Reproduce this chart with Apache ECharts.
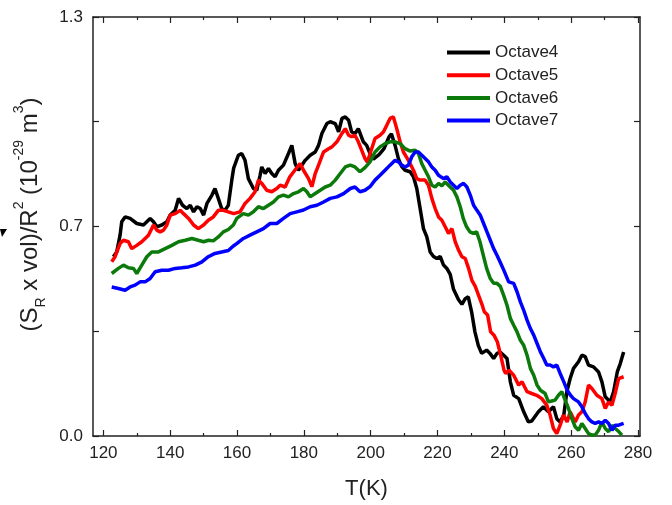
<!DOCTYPE html>
<html>
<head>
<meta charset="utf-8">
<script src="https://cdn.jsdelivr.net/npm/echarts@6/dist/echarts.min.js"></script>
<style>
  html, body { margin: 0; padding: 0; background: #fff; }
  #chart { width: 672px; height: 505px; }
</style>
</head>
<body>
<div id="chart"></div>
<script>
// tick labels
var xTicks = [120, 140, 160, 180, 200, 220, 240, 260, 280];
var xMinorTicks = [130, 150, 170, 190, 210, 230, 250, 270];
var yLabels = { 0: "0.0", 0.7: "0.7", 1.4: "1.3" };
var seriesNames = ["Octave4", "Octave5", "Octave6", "Octave7"];

// Octave4
var t4 = [123.0, 124.0, 125.0, 125.5, 126.5, 128.0, 130.0, 132.0, 134.0, 135.0, 136.0, 137.5, 139.0, 140.0, 141.5, 142.5, 143.7, 145.0, 146.0, 147.0, 148.0, 149.0, 150.0, 151.0, 152.5, 153.4, 154.4, 155.4, 156.4, 157.4, 157.9, 158.5, 159.0, 160.4, 161.4, 162.4, 163.4, 164.9, 165.9, 166.9, 167.4, 168.4, 169.4, 170.4, 171.4, 172.4, 173.9, 175.4, 176.4, 177.4, 178.4, 179.4, 180.4, 181.9, 183.4, 184.4, 185.4, 186.9, 187.9, 189.4, 190.4, 191.4, 192.4, 193.4, 194.3, 195.3, 196.3, 197.8, 198.8, 199.8, 200.8, 202.5, 204.0, 205.5, 206.2, 207.3, 208.3, 209.3, 210.3, 211.8, 212.8, 213.8, 214.8, 215.8, 216.8, 217.8, 218.8, 219.8, 220.8, 221.8, 222.8, 223.8, 224.8, 226.3, 227.3, 228.3, 229.2, 230.2, 231.2, 232.2, 233.2, 234.7, 235.7, 236.8, 237.8, 238.8, 239.8, 240.8, 241.8, 242.8, 244.3, 245.8, 247.2, 248.2, 250.2, 251.7, 253.2, 254.7, 255.7, 256.7, 257.8, 258.7, 259.7, 260.7, 262.2, 263.2, 264.2, 265.2, 266.7, 268.2, 269.2, 270.2, 271.7, 272.7, 273.8, 274.7, 275.7];
var v4 = [0.599, 0.615, 0.671, 0.716, 0.732, 0.727, 0.710, 0.705, 0.727, 0.716, 0.699, 0.705, 0.716, 0.738, 0.754, 0.794, 0.771, 0.760, 0.771, 0.749, 0.766, 0.760, 0.738, 0.777, 0.805, 0.827, 0.794, 0.760, 0.754, 0.771, 0.765, 0.860, 0.895, 0.938, 0.944, 0.921, 0.860, 0.827, 0.821, 0.871, 0.899, 0.877, 0.894, 0.877, 0.866, 0.888, 0.905, 0.944, 0.971, 0.910, 0.888, 0.905, 0.921, 0.938, 0.949, 0.971, 1.011, 1.044, 1.050, 1.044, 1.016, 1.061, 1.066, 1.055, 1.016, 1.011, 1.027, 0.983, 0.971, 0.944, 0.925, 0.940, 0.960, 1.000, 1.010, 0.971, 0.927, 0.900, 0.888, 0.883, 0.866, 0.827, 0.760, 0.693, 0.665, 0.615, 0.600, 0.593, 0.600, 0.571, 0.560, 0.540, 0.490, 0.455, 0.440, 0.459, 0.465, 0.415, 0.348, 0.303, 0.276, 0.287, 0.276, 0.259, 0.276, 0.280, 0.270, 0.259, 0.181, 0.136, 0.125, 0.081, 0.047, 0.050, 0.081, 0.098, 0.081, 0.098, 0.058, 0.047, 0.070, 0.148, 0.192, 0.226, 0.248, 0.270, 0.265, 0.237, 0.231, 0.214, 0.181, 0.131, 0.114, 0.148, 0.214, 0.242, 0.281];

// Octave5
var t5 = [122.5, 123.5, 125.0, 126.0, 127.5, 128.5, 130.0, 131.5, 133.5, 135.0, 136.0, 137.0, 138.0, 139.0, 140.0, 141.5, 143.0, 144.0, 145.5, 147.0, 148.4, 150.0, 151.4, 152.9, 154.4, 155.9, 157.4, 159.0, 160.9, 162.4, 163.9, 165.4, 166.4, 167.4, 168.9, 170.4, 171.9, 172.9, 174.4, 175.8, 177.3, 178.9, 179.9, 181.4, 182.4, 183.4, 184.4, 185.9, 187.4, 188.4, 189.9, 191.4, 192.4, 193.4, 194.3, 195.3, 196.3, 197.3, 198.3, 199.0, 200.0, 201.3, 202.8, 203.8, 204.8, 205.8, 206.8, 207.8, 208.8, 209.8, 211.3, 212.8, 213.8, 214.8, 216.3, 217.3, 218.3, 219.3, 220.3, 221.3, 222.3, 223.3, 224.3, 225.3, 226.3, 227.3, 228.3, 229.3, 230.3, 231.3, 232.3, 233.3, 234.0, 235.0, 235.9, 236.9, 237.9, 238.9, 239.9, 240.4, 241.4, 242.8, 244.3, 245.3, 246.8, 248.2, 249.7, 251.2, 252.7, 253.7, 254.7, 255.7, 256.7, 257.7, 258.8, 259.7, 261.2, 262.2, 263.2, 264.2, 265.2, 266.2, 267.7, 269.2, 270.2, 271.2, 272.2, 273.3, 274.2, 275.7];
var v5 = [0.582, 0.599, 0.643, 0.654, 0.649, 0.626, 0.637, 0.649, 0.671, 0.705, 0.688, 0.682, 0.688, 0.705, 0.738, 0.743, 0.754, 0.743, 0.727, 0.705, 0.693, 0.705, 0.721, 0.732, 0.754, 0.754, 0.749, 0.743, 0.749, 0.777, 0.794, 0.816, 0.855, 0.844, 0.821, 0.816, 0.827, 0.838, 0.832, 0.866, 0.888, 0.910, 0.888, 0.860, 0.833, 0.877, 0.905, 0.949, 0.960, 0.966, 0.983, 1.011, 1.027, 1.005, 1.000, 1.005, 0.983, 0.955, 0.927, 0.915, 0.950, 0.994, 1.005, 1.016, 1.038, 1.061, 1.066, 1.027, 0.983, 0.949, 0.921, 0.888, 0.860, 0.855, 0.855, 0.838, 0.794, 0.760, 0.732, 0.721, 0.699, 0.677, 0.693, 0.649, 0.621, 0.599, 0.593, 0.560, 0.520, 0.500, 0.470, 0.440, 0.415, 0.404, 0.348, 0.337, 0.315, 0.270, 0.220, 0.209, 0.220, 0.203, 0.170, 0.181, 0.148, 0.142, 0.136, 0.125, 0.103, 0.070, 0.025, 0.008, 0.036, 0.070, 0.047, 0.081, 0.047, 0.070, 0.081, 0.114, 0.170, 0.159, 0.136, 0.125, 0.092, 0.114, 0.103, 0.148, 0.192, 0.198];

// Octave6
var t6 = [122.5, 124.5, 126.0, 127.5, 129.0, 130.0, 131.5, 133.0, 134.5, 136.5, 138.5, 140.5, 142.5, 144.5, 146.5, 148.4, 150.0, 151.5, 152.9, 154.4, 155.9, 157.4, 158.9, 159.9, 161.9, 163.4, 164.9, 166.4, 167.9, 169.4, 170.9, 172.4, 173.9, 175.4, 176.9, 178.4, 179.9, 180.9, 181.9, 183.4, 184.9, 186.4, 187.9, 189.4, 190.9, 192.4, 193.9, 195.3, 196.8, 198.3, 199.8, 201.3, 202.8, 204.3, 205.8, 207.3, 208.8, 210.3, 211.8, 213.3, 214.3, 215.3, 216.3, 217.3, 218.3, 219.3, 220.3, 221.3, 222.3, 223.8, 224.8, 225.8, 226.8, 227.7, 228.7, 229.7, 230.7, 231.7, 232.7, 233.7, 234.7, 235.8, 236.8, 237.8, 238.8, 239.8, 240.8, 241.8, 242.8, 243.8, 244.8, 245.8, 246.8, 247.8, 248.8, 249.8, 250.8, 252.2, 253.2, 254.2, 255.2, 256.2, 257.2, 258.2, 259.2, 260.2, 261.2, 262.2, 263.2, 264.2, 265.2, 266.2, 267.2, 268.2, 269.2, 270.2, 271.2, 272.2, 273.2, 274.3, 275.2];
var v6 = [0.543, 0.560, 0.571, 0.562, 0.560, 0.543, 0.571, 0.599, 0.615, 0.615, 0.626, 0.637, 0.649, 0.654, 0.660, 0.654, 0.649, 0.654, 0.652, 0.665, 0.682, 0.690, 0.705, 0.727, 0.743, 0.738, 0.749, 0.766, 0.760, 0.771, 0.782, 0.799, 0.805, 0.799, 0.810, 0.816, 0.827, 0.816, 0.799, 0.810, 0.821, 0.832, 0.838, 0.855, 0.877, 0.899, 0.905, 0.899, 0.883, 0.897, 0.916, 0.949, 0.966, 0.977, 0.983, 0.983, 0.977, 0.960, 0.952, 0.955, 0.944, 0.910, 0.888, 0.866, 0.838, 0.832, 0.844, 0.836, 0.849, 0.832, 0.821, 0.799, 0.766, 0.727, 0.699, 0.682, 0.677, 0.682, 0.649, 0.604, 0.560, 0.526, 0.510, 0.510, 0.500, 0.470, 0.437, 0.393, 0.370, 0.348, 0.320, 0.303, 0.270, 0.226, 0.203, 0.170, 0.153, 0.142, 0.114, 0.117, 0.120, 0.136, 0.148, 0.120, 0.092, 0.058, 0.031, 0.019, 0.042, 0.025, 0.008, 0.003, 0.003, 0.019, 0.047, 0.025, 0.014, 0.036, 0.025, 0.014, 0.003];

// Octave7
var t7 = [122.5, 124.5, 126.5, 128.0, 129.5, 131.0, 132.5, 134.0, 135.5, 137.5, 139.5, 141.5, 143.5, 145.5, 147.5, 149.5, 151.4, 153.4, 155.4, 157.4, 158.9, 159.9, 161.9, 163.9, 165.9, 167.9, 169.9, 171.9, 173.9, 175.9, 177.9, 179.9, 181.9, 183.9, 185.9, 187.9, 189.9, 191.9, 193.9, 195.3, 196.8, 198.3, 199.8, 201.3, 202.8, 204.3, 205.8, 207.3, 208.3, 209.3, 210.3, 211.3, 212.3, 213.3, 214.3, 215.3, 216.3, 217.3, 218.3, 219.3, 220.3, 221.8, 222.8, 223.8, 224.8, 225.8, 226.8, 227.8, 228.8, 229.8, 230.8, 231.8, 232.8, 233.8, 234.8, 235.8, 236.8, 237.8, 238.8, 239.8, 241.3, 242.8, 243.8, 244.8, 245.8, 246.8, 247.8, 248.8, 249.8, 250.8, 251.8, 252.7, 253.7, 254.7, 255.7, 256.7, 257.8, 258.8, 259.8, 260.7, 262.2, 263.2, 264.2, 265.2, 266.2, 267.2, 268.2, 269.2, 270.2, 271.2, 272.2, 273.2, 274.2, 275.7];
var v7 = [0.498, 0.493, 0.487, 0.498, 0.504, 0.515, 0.515, 0.526, 0.549, 0.554, 0.554, 0.560, 0.562, 0.565, 0.571, 0.582, 0.599, 0.610, 0.615, 0.620, 0.635, 0.643, 0.660, 0.671, 0.682, 0.693, 0.710, 0.710, 0.727, 0.743, 0.749, 0.755, 0.766, 0.771, 0.782, 0.794, 0.799, 0.810, 0.827, 0.832, 0.816, 0.821, 0.833, 0.855, 0.871, 0.888, 0.905, 0.921, 0.916, 0.905, 0.899, 0.905, 0.933, 0.949, 0.949, 0.938, 0.927, 0.916, 0.899, 0.888, 0.871, 0.860, 0.866, 0.849, 0.838, 0.827, 0.838, 0.844, 0.832, 0.805, 0.771, 0.754, 0.738, 0.710, 0.682, 0.654, 0.626, 0.604, 0.580, 0.555, 0.515, 0.510, 0.482, 0.448, 0.420, 0.387, 0.359, 0.337, 0.309, 0.281, 0.259, 0.237, 0.237, 0.231, 0.237, 0.209, 0.181, 0.153, 0.136, 0.125, 0.114, 0.098, 0.075, 0.058, 0.047, 0.042, 0.047, 0.042, 0.053, 0.042, 0.019, 0.036, 0.036, 0.042];

var colors = ["#000000", "#ff0000", "#0b7a0b", "#0000ff"];
var tList = [t4, t5, t6, t7];
var vList = [v4, v5, v6, v7];

function pairs(t, v) {
  var out = [];
  for (var i = 0; i < t.length; i++) out.push([t[i], v[i]]);
  return out;
}

var xMin = 116.9, xMax = 280.6;
var axisColor = "#222";
var font = "Liberation Sans, Arial, sans-serif";

function xAxisDef(position, ticks, len, showLine, showLabel) {
  return {
    type: "value", position: position, min: xMin, max: xMax,
    axisLine: { show: showLine, onZero: false, lineStyle: { color: axisColor, width: 1.5 } },
    axisTick: { show: true, inside: true, length: len, customValues: ticks, lineStyle: { color: axisColor, width: 1.2 } },
    axisLabel: { show: showLabel, customValues: ticks, margin: 9, color: "#222", fontSize: 17, fontFamily: font },
    splitLine: { show: false }
  };
}

var chart = echarts.init(document.getElementById("chart"));
var xBottom = xAxisDef("bottom", xTicks, 6, true, true);
xBottom.name = "T(K)";
xBottom.nameLocation = "middle";
xBottom.nameGap = 42;
xBottom.nameTextStyle = { color: "#222", fontSize: 22, fontFamily: font };

function yAxisDef(position, showLabel) {
  return {
    type: "value", position: position, min: 0, max: 1.4, interval: 0.35,
    axisLine: { show: true, onZero: false, lineStyle: { color: axisColor, width: 1.5 } },
    axisTick: { show: true, inside: true, length: 6, lineStyle: { color: axisColor, width: 1.2 } },
    axisLabel: {
      show: showLabel, margin: 10, color: "#222", fontSize: 17, fontFamily: font,
      formatter: function (v) { var k = Math.round(v * 100) / 100; return yLabels[k] !== undefined ? yLabels[k] : ""; }
    },
    splitLine: { show: false }
  };
}
var yLeft = yAxisDef("left", true);
yLeft.name = "(S{sub|R} x vol)/R{sup|2} (10{sup|-29} m{sup|3})";
yLeft.nameLocation = "middle";
yLeft.nameGap = 40;
yLeft.nameTextStyle = {
  color: "#222", fontSize: 24, fontFamily: font, lineHeight: 36, padding: [0, 0, 0, 24],
  rich: {
    sub: { fontSize: 14, fontFamily: font, color: "#222", verticalAlign: "bottom", lineHeight: 36 },
    sup: { fontSize: 14, fontFamily: font, color: "#222", verticalAlign: "top", lineHeight: 36 }
  }
};

var series = seriesNames.map(function (name, i) {
  return {
    name: name, type: "line", xAxisIndex: 0, yAxisIndex: 0,
    data: pairs(tList[i], vList[i]),
    showSymbol: false, symbol: "none", smooth: false,
    color: colors[i],
    itemStyle: { color: colors[i] },
    lineStyle: { color: colors[i], width: 3.5 },
    animation: false
  };
});

chart.setOption({
  backgroundColor: "#fff",
  animation: false,
  grid: { left: 93, right: 32, top: 17, bottom: 67, containLabel: false },
  legend: {
    orient: "vertical", left: 447, top: 44, padding: 0,
    itemWidth: 43, itemHeight: 4, itemGap: 5.7, icon: "rect",
    textStyle: { color: "#222", fontSize: 17, fontFamily: font, lineHeight: 17 },
    data: seriesNames
  },
  xAxis: [
    xBottom,
    xAxisDef("top", xTicks, 6, true, false),
    xAxisDef("bottom", xMinorTicks, 3, false, false),
    xAxisDef("top", xMinorTicks, 3, false, false)
  ],
  yAxis: [yLeft, yAxisDef("right", false)],
  graphic: [{
    type: "polygon",
    shape: { points: [[0, 229], [7, 229], [2, 237]] },
    style: { fill: "#000" }
  }],
  series: series
});
</script>
</body>
</html>
